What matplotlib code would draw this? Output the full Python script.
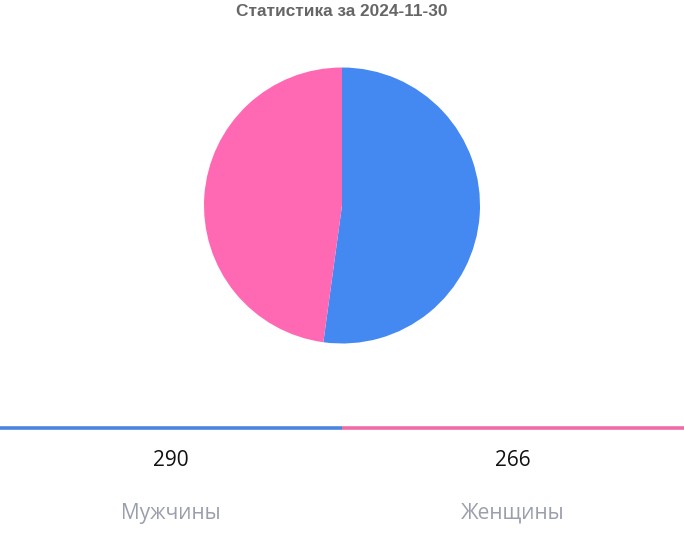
import matplotlib
matplotlib.use("Agg")
import matplotlib.pyplot as plt
from matplotlib.lines import Line2D

title = "Статистика за 2024-11-30"
categories = ["Мужчины", "Женщины"]
values = [290, 266]
colors = ["#4488f2", "#ff69b4"]
line_colors = ["#4a86e0", "#f06aa8"]

W, H = 684, 534
fig = plt.figure(figsize=(W / 100, H / 100), dpi=100)
fig.patch.set_facecolor("white")

# pie axes
cx, cy, r = 342, 205.5, 138
ax = fig.add_axes([(cx - r) / W, 1 - (cy + r) / H, 2 * r / W, 2 * r / H])
ax.pie(values, colors=colors, startangle=90, counterclock=False, radius=1,
       wedgeprops=dict(linewidth=0))
ax.set_xlim(-1, 1)
ax.set_ylim(-1, 1)
ax.set_aspect("equal")
ax.axis("off")

fig.text(0.5, 1 - 12 / H, title, ha="center", va="center",
         fontsize=12.4, fontweight="bold", color="#666666",
         family=["Liberation Sans", "DejaVu Sans"])

# bottom legend
n = len(categories)
for i, (cat, val) in enumerate(zip(categories, values)):
    x0, x1 = i / n, (i + 1) / n
    fig.add_artist(Line2D([x0, x1], [1 - 428 / H, 1 - 428 / H],
                          transform=fig.transFigure, color=line_colors[i],
                          linewidth=2.6, solid_capstyle="butt"))
    xc = (x0 + x1) / 2
    fig.text(xc, 1 - 461 / H, str(val), ha="center", va="center",
             fontsize=15, color="#111111", family=["Open Sans", "DejaVu Sans"])
    fig.text(xc, 1 - 513 / H, cat, ha="center", va="center",
             fontsize=15, color="#9a9fab", family=["Open Sans", "DejaVu Sans"])

fig.savefig("out.png", dpi=100, facecolor="white")
